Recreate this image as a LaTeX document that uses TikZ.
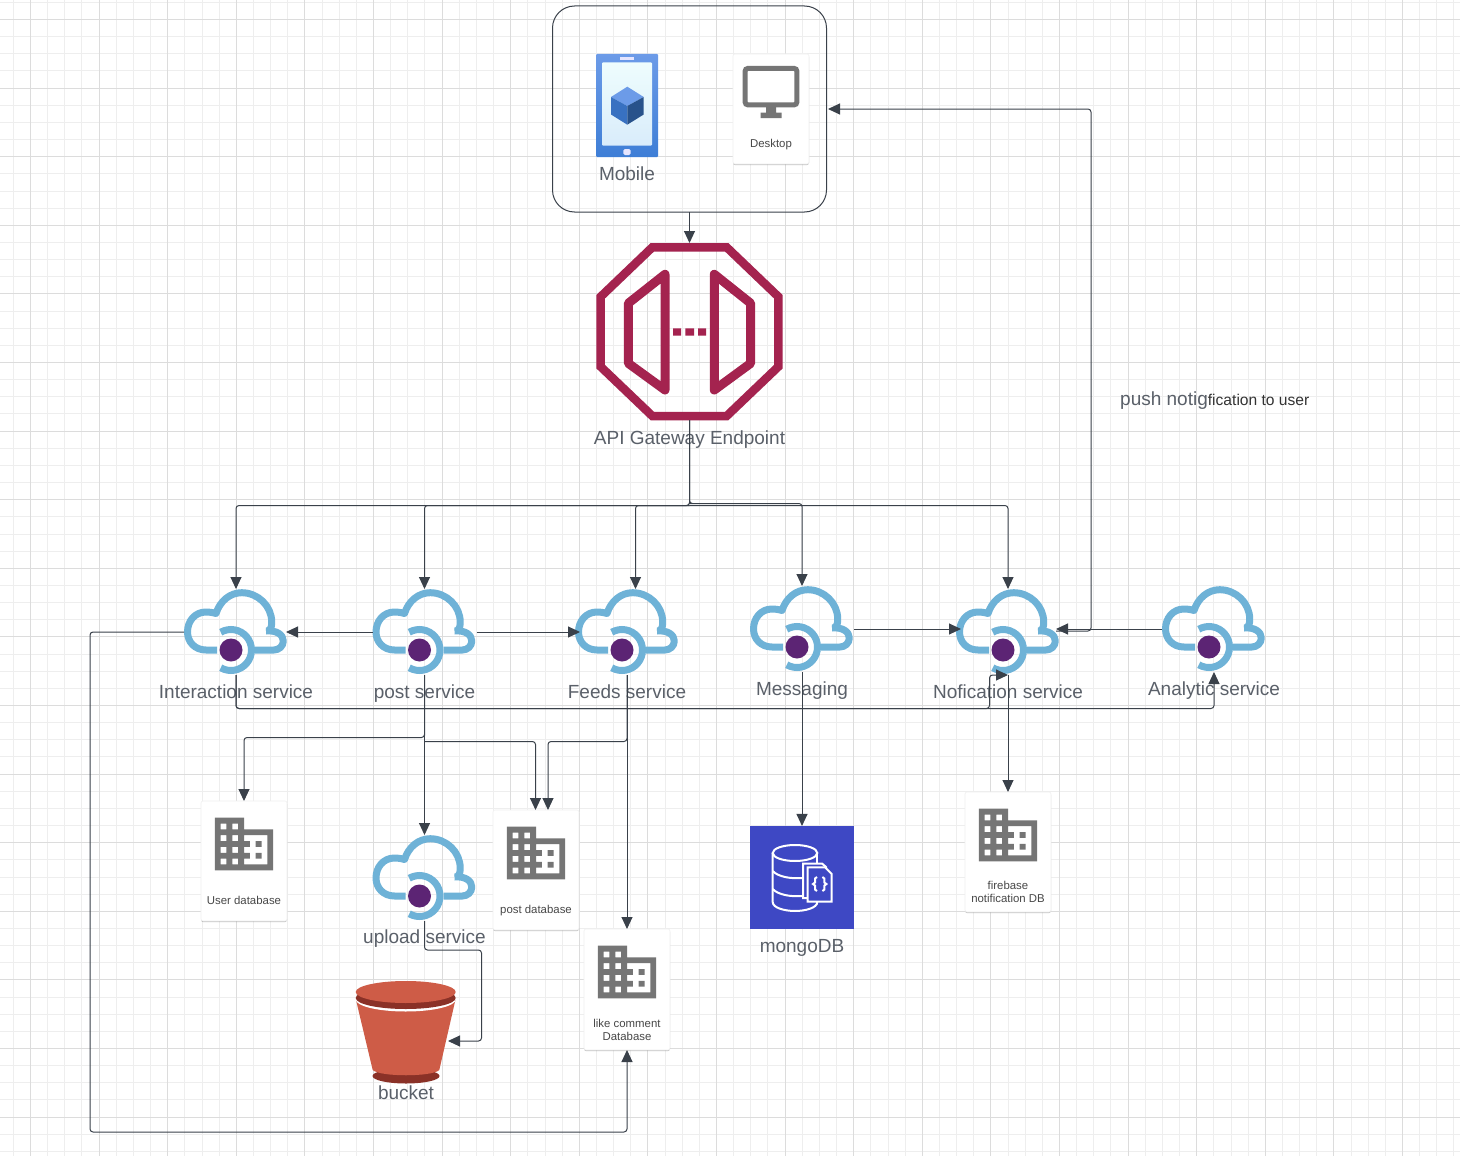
\documentclass[tikz,border=0pt]{standalone}
\usepackage{fontspec}
\setmainfont{Liberation Sans}
\usetikzlibrary{arrows.meta, calc, shadows}
\definecolor{gridminor}{RGB}{238, 238, 238}
\definecolor{gridmajor}{RGB}{220, 220, 220}
\definecolor{linkgray}{RGB}{58, 65, 74}
\definecolor{labelgray}{RGB}{90, 96, 105}
\definecolor{cloudblue}{RGB}{110, 178, 215}
\definecolor{corepurple}{RGB}{92, 36, 116}
\definecolor{gatewayred}{RGB}{164, 35, 79}
\definecolor{iconfill}{RGB}{117, 117, 117}
\definecolor{mongoblue}{RGB}{62, 72, 196}
\definecolor{bucketlight}{RGB}{206, 92, 71}
\definecolor{bucketdark}{RGB}{138, 49, 39}
\definecolor{phonetop}{RGB}{108, 155, 232}
\definecolor{phonebottom}{RGB}{62, 126, 214}
\definecolor{screentop}{RGB}{238, 253, 253}
\definecolor{screenbottom}{RGB}{217, 236, 251}
\tikzset{
  anchorbox/.style={inner sep=0pt, outer sep=0pt},
  link/.style={draw=linkgray, line width=1pt, rounded corners=3pt, -{Triangle[length=12pt,width=11pt]}},
  iconlabel/.style={font=\fontsize{19}{22}\selectfont, text=labelgray, inner sep=0pt, text height=13pt, text depth=0pt},
  cardlabel/.style={font=\fontsize{11.4}{13}\selectfont, text=black!72, align=center, inner sep=0pt},
  whitecard/.style={anchorbox, fill=white, draw=black!6, line width=0.6pt, rounded corners=2pt, minimum width=86pt,
    drop shadow={shadow xshift=0pt, shadow yshift=-1pt, opacity=.25, fill=black}},
  cloudicon/.pic={
    % outline in two strokes, then the ring and its core
    \draw[cloudblue, line width=7pt, line join=round] (-19,18) -- (-30,18)
      .. controls (-41,18) and (-48.5,10) .. (-48.5,0)
      .. controls (-48.5,-11) and (-41,-20) .. (-30,-20)
      .. controls (-27,-20) and (-23,-19.5) .. (-20,-18.5)
      .. controls (-16,-31) and (-6,-39.3) .. (5.7,-39.3)
      .. controls (22,-39.3) and (35.7,-26) .. (35.7,-10)
      .. controls (35.7,-6) and (35,-3) .. (33,-1);
    \draw[cloudblue, line width=7pt, line join=round] (30,-1)
      .. controls (41,-2) and (47.3,3) .. (47.3,9)
      .. controls (47.3,14) and (43,18) .. (38,18) -- (19,18);
    \draw[cloudblue, line width=7pt] plot[smooth, domain=-120:120, samples=25] ({-5+20.5*cos(\x)},{18+20.5*sin(\x)});
    \fill[corepurple] (-5,18) circle (11.5pt);
  },
  buildingicon/.pic={
    % 24 unit icon grid
    \begin{scope}[x=2.92pt, y=-2.92pt, shift={(-12,-12)}]
      \fill[iconfill, even odd rule] (2,3) -- (12,3) -- (12,7) -- (22,7) -- (22,21) -- (2,21) -- cycle
        (4,5) rectangle (6,7) (8,5) rectangle (10,7)
        (4,9) rectangle (6,11) (8,9) rectangle (10,11)
        (4,13) rectangle (6,15) (8,13) rectangle (10,15)
        (4,17) rectangle (6,19) (8,17) rectangle (10,19)
        (12,9) -- (20,9) -- (20,19) -- (12,19) -- (12,17) -- (14,17) -- (14,15) -- (12,15) -- (12,13) -- (14,13) -- (14,11) -- (12,11) -- cycle;
      \fill[iconfill] (16,11) rectangle (18,13) (16,15) rectangle (18,17);
    \end{scope}
  },
}
% service: name, position, label, label height
\newcommand{\servicecloud}[4]{
  \node[anchorbox, minimum width=104pt, minimum height=86pt] (#1) at (#2) {};
  \pic at (#2) {cloudicon};
  \node[iconlabel] (#1label) at (#4) {#3};
}
\begin{document}
\begin{tikzpicture}[x=1pt, y=-1pt]
\useasboundingbox (0,0) rectangle (1460,1156);
\fill[white] (0,0) rectangle (1460,1156);
% Background grid
\foreach \i in {0,...,85} {
  \pgfmathsetmacro{\gridx}{13.35+17.15*\i}
  \draw[gridminor, line width=1pt] (\gridx,0) -- (\gridx,1156);
}
\foreach \i in {0,...,67} {
  \pgfmathsetmacro{\gridy}{2.35+17.15*\i}
  \draw[gridminor, line width=1pt] (0,\gridy) -- (1460,\gridy);
}
\foreach \i in {0,...,21} {
  \pgfmathsetmacro{\gridx}{30.5+68.6*\i}
  \draw[gridmajor, line width=1pt] (\gridx,0) -- (\gridx,1156);
}
\foreach \i in {0,...,16} {
  \pgfmathsetmacro{\gridy}{19.5+68.6*\i}
  \draw[gridmajor, line width=1pt] (0,\gridy) -- (1460,\gridy);
}
% Client devices
\node[anchorbox, draw=linkgray, line width=1pt, rounded corners=22pt, minimum width=274pt, minimum height=206pt] (devices) at (689.5,109) {};
\node[anchorbox, minimum width=62pt, minimum height=103pt] (mobile) at (627,105.5) {};
\shade[top color=phonetop, bottom color=phonebottom, rounded corners=1pt] (mobile.north west) rectangle (mobile.south east);
\shade[top color=screentop, bottom color=screenbottom, rounded corners=1pt] (602,62.3) rectangle (652,145.7);
\fill[white!90!blue] (620,57.5) rectangle (634,60);
\fill[white!90!blue, rounded corners=1.5pt] (623.3,149) rectangle (630.7,155);
\fill[phonetop] (627.3,86.7) -- (643.7,97) -- (627.3,106) -- (611,97) -- cycle;
\fill[phonebottom!90!black] (611,97) -- (627.3,106) -- (627.3,124.7) -- (611,114.5) -- cycle;
\fill[phonebottom!65!black] (643.7,97) -- (627.3,106) -- (627.3,124.7) -- (643.7,114.5) -- cycle;
\node[iconlabel] (mobilelabel) at (627,174) {Mobile};
\node[whitecard, minimum width=76pt, minimum height=110pt] (desktop) at (771,109) {};
\draw[iconfill, line width=5pt, rounded corners=2.5pt] (745.2,68.5) rectangle (796.8,104.8);
\fill[iconfill] (766,107) rectangle (776,113) (760.7,112.7) rectangle (781.7,118);
\node[cardlabel] (desktoplabel) at (771,145) {Desktop};
% Gateway
\node[anchorbox, minimum width=186pt, minimum height=177pt] (gateway) at (689.5,331.5) {};
\draw[gatewayred, line width=8.5pt] (652.3,247.3) -- (726.7,247.3) -- (778.3,296.7) -- (778.3,366.7) -- (726.7,416) -- (652.3,416) -- (600.7,366.7) -- (600.7,296.7) -- cycle;
\draw[gatewayred, line width=9pt, line join=round] (665,274.3) -- (628.3,303.3) -- (628.3,363.3) -- (665,390) -- cycle;
\draw[gatewayred, line width=9pt, line join=round] (714.3,274.3) -- (750.7,303.3) -- (750.7,363.3) -- (714.3,390) -- cycle;
\fill[gatewayred] (673,328.3) rectangle (681,335.7) (685.3,328.3) rectangle (694,335.7) (698,328.3) rectangle (706,335.7);
\node[iconlabel] (gatewaylabel) at (689.5,437.5) {API Gateway Endpoint};
\node[iconlabel, anchor=west] (pushlabel) at (1120,398.5) {push notig\fontsize{15.6}{17}\selectfont\color{black!80}fication to user};
% Services
\servicecloud{interaction}{236,632}{Interaction service}{236,692}
\servicecloud{post}{424.5,632}{post service}{424.5,692}
\servicecloud{feeds}{627,632}{Feeds service}{627,692}
\servicecloud{messaging}{802,629}{Messaging}{802,689}
\servicecloud{notification}{1008,632}{Nofication service}{1008,692}
\servicecloud{analytic}{1214,629}{Analytic service}{1214,689}
\servicecloud{upload}{424.5,878}{upload service}{424.5,937}
% Databases
\node[whitecard, minimum height=120pt] (userdb) at (244,861) {};
\pic at (244,844) {buildingicon};
\node[cardlabel] (userdblabel) at (244,900.5) {User database};
\node[whitecard, minimum height=120pt] (postdb) at (536,870) {};
\pic at (536,853) {buildingicon};
\node[cardlabel] (postdblabel) at (536,911) {post database};
\node[whitecard, minimum height=121pt] (likedb) at (627,989.5) {};
\pic at (627,972) {buildingicon};
\node[cardlabel] (likedblabel) at (627,1029.5) {like comment\\Database};
\node[whitecard, minimum height=120pt] (firebasedb) at (1008,852) {};
\pic at (1008,835) {buildingicon};
\node[cardlabel] (firebasedblabel) at (1008,892) {firebase\\notification DB};
% mongoDB tile
\node[anchorbox, fill=mongoblue, minimum width=103.5pt, minimum height=103.5pt] (mongo) at (802,877.7) {};
\draw[white, line width=2pt] (772.7,853) -- (772.7,902) .. controls (772.7,908) and (785,911) .. (795,911) .. controls (805,911) and (817.3,908) .. (817.3,902);
\draw[white, line width=2pt] (795,853) ellipse (22.3pt and 8pt);
\draw[white, line width=2pt] (817.3,853) -- (817.3,863);
\draw[white, line width=2pt] (772.7,871) .. controls (778,877) and (792,879) .. (802,878);
\draw[white, line width=2pt] (772.7,889) .. controls (778,895) and (792,897) .. (802,896);
\draw[white, line width=2pt, fill=mongoblue] (803,898) -- (803,863.5) -- (822,863.5) -- (826,867) -- (826,898) -- cycle;
\draw[white, line width=2pt, fill=mongoblue] (807.7,901.7) -- (807.7,867.3) -- (825,867.3) -- (831.7,874) -- (831.7,901.7) -- cycle;
\draw[white, line width=2pt] (817,877) -- (815,878.5) -- (815,882.5) -- (813,884) -- (815,885.5) -- (815,889.5) -- (817,891);
\draw[white, line width=2pt] (822.4,877) -- (824.4,878.5) -- (824.4,882.5) -- (826.4,884) -- (824.4,885.5) -- (824.4,889.5) -- (822.4,891);
\node[iconlabel] (mongolabel) at (802,946) {mongoDB};
% Bucket
\node[anchorbox, minimum width=100pt, minimum height=102pt] (bucket) at (405.7,1032) {};
\fill[bucketdark] (406,1076) ellipse (33.5pt and 7.5pt);
\fill[bucketlight] (356,1000) -- (372.7,1070) .. controls (380,1077) and (432,1077) .. (439.3,1070) -- (455.4,1000) -- cycle;
\fill[white] (405.7,999.5) ellipse (50pt and 12pt);
\fill[bucketdark] (405.7,998) ellipse (50pt and 11pt);
\fill[bucketlight] (405.7,992) ellipse (50pt and 11pt);
\node[iconlabel] (bucketlabel) at (406,1093) {bucket};
% Bends of the connectors
\coordinate (gatewaybus) at (689.5,505.5);
\coordinate (gatewaybusright) at (692,503.5);
\coordinate (devicerail) at (1091,109);
\coordinate (lowrail) at (989.5,708.5);
\coordinate (analyticlow) at (1214,708.5);
\coordinate (userdbrail) at (424.5,737.5);
\coordinate (postdbrail) at (424.5,741.5);
\coordinate (feedsrail) at (627,741.5);
\coordinate (leftrail) at (90,1132);
\coordinate (uploadbend) at (481.5,950);
\coordinate (bucketport) at (448,1041);
% Connectors
\draw[link] (devices.south) -- (devices.south |- gateway.north);
\draw[link] (gateway.south) |- (gatewaybus) -| (interaction.north);
\draw[link] (gatewaybus) -| (post.north);
\draw[link] (gatewaybus) -| ([xshift=8.5pt]feeds.north);
\draw[link] (gateway.south) |- (gatewaybusright) -| (messaging.north);
\draw[link] (gatewaybus) -| (notification.north);
\draw[link] (post.west) -- ([xshift=-2pt]interaction.east);
\draw[link] (post.east) -- ([xshift=5pt]feeds.west);
\draw[link] (messaging.east) -- ([xshift=5pt]notification.west |- messaging.east);
\draw[link] (analytic.west) -- ([xshift=-4pt]notification.east |- analytic.west);
\draw[link] ([xshift=-4pt,yshift=1pt]notification.east) -| (devicerail) -- ([xshift=1.5pt]devices.east);
\draw[link] (interaction.south) |- (lowrail) |- (notification.south);
\draw[link] (interaction.south) |- (analyticlow) -- (analytic.south);
\draw[link] (interaction.west) -| (leftrail) -| (likedb.south);
\draw[link] (post.south) |- (userdbrail) -| (userdb.north);
\draw[link] (post.south) -- (upload.north);
\draw[link] (postdbrail) -| ([xshift=-0.5pt]postdb.north);
\draw[link] (feeds.south) |- (feedsrail) -| ([xshift=12pt]postdb.north);
\draw[link] (feeds.south) -- (likedb.north);
\draw[link] (messaging.south) -- (mongo.north);
\draw[link] (notification.south) -- (firebasedb.north);
\draw[link] (upload.south) |- (uploadbend) |- (bucketport);
\end{tikzpicture}
\end{document}
